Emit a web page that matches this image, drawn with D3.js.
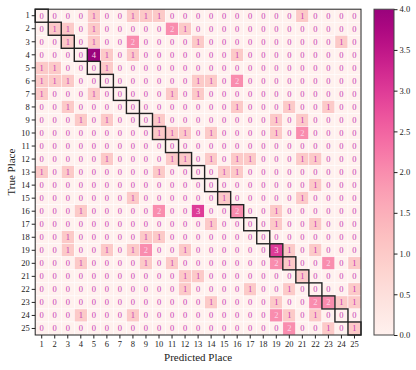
<!DOCTYPE html>
<html>
<head>
<meta charset="utf-8">
<script src="https://d3js.org/d3.v7.min.js"></script>
<style>
  body { margin: 0; background: #fff; }
  text { font-family: "Liberation Serif", "DejaVu Serif", serif; }
</style>
</head>
<body>
<div id="chart"></div>
<script>
// place labels (both axes)
var places = ["1","2","3","4","5","6","7","8","9","10","11","12","13",
              "14","15","16","17","18","19","20","21","22","23","24","25"];

// confusion counts: one row per true place, one column per predicted place
var counts = [
  [0,0,0,0,1,0,0,1,1,1,0,0,0,0,0,0,0,0,0,0,1,0,0,0,0],
  [0,1,1,0,1,0,0,0,0,0,2,1,0,0,0,0,0,0,0,0,0,0,0,0,0],
  [0,0,1,0,1,0,0,2,0,0,0,0,1,0,0,0,0,0,0,0,0,0,0,1,0],
  [0,0,0,0,4,1,0,1,0,0,0,0,0,0,0,1,0,0,0,0,0,0,0,0,0],
  [1,1,0,0,0,1,0,0,0,0,0,0,0,0,0,0,0,0,0,0,0,0,0,0,0],
  [1,1,1,0,0,0,0,0,0,0,0,0,1,1,0,2,0,0,0,0,0,0,0,0,0],
  [1,0,0,0,1,0,0,0,0,0,1,0,1,0,0,0,0,0,0,0,0,0,0,0,0],
  [0,0,1,0,0,0,0,0,0,0,0,0,0,0,0,1,0,0,0,1,0,0,1,0,0],
  [0,0,0,1,0,1,0,0,0,1,0,0,0,0,0,0,0,0,1,0,1,0,0,0,0],
  [0,0,0,0,0,0,0,0,0,1,1,1,0,1,0,0,0,0,1,0,2,0,0,0,0],
  [0,0,0,0,0,0,0,0,0,0,0,0,0,0,0,0,0,0,0,0,0,0,0,0,0],
  [0,0,0,0,0,1,0,0,0,0,1,1,0,1,0,1,1,0,0,0,1,1,0,0,0],
  [1,0,1,0,0,0,0,0,0,1,0,0,0,0,1,1,0,0,0,0,0,0,0,0,0],
  [0,0,0,0,0,0,0,0,0,0,0,0,0,0,0,0,0,0,0,0,0,1,0,0,0],
  [0,0,0,0,0,0,0,1,0,0,0,0,0,0,1,0,0,0,0,0,1,0,0,0,0],
  [0,0,0,1,0,0,0,0,0,2,0,0,3,0,0,2,0,0,1,0,0,0,0,0,0],
  [0,0,0,0,0,0,0,0,0,0,0,0,0,1,0,0,0,0,1,0,0,1,0,0,0],
  [0,0,1,0,0,0,0,0,1,1,0,0,0,0,0,0,0,0,0,0,0,0,0,0,0],
  [0,0,1,0,0,1,0,1,2,0,0,1,0,0,0,0,0,0,3,1,0,1,0,0,0],
  [0,0,0,1,0,0,0,0,1,0,1,0,0,0,0,0,0,0,2,1,0,0,2,0,1],
  [0,0,0,0,0,0,0,0,0,0,0,1,1,0,0,0,0,0,0,0,1,0,0,0,0],
  [0,0,0,0,0,0,0,0,0,0,0,1,0,0,0,0,1,0,0,1,0,0,0,0,1],
  [0,0,0,0,0,0,0,0,0,0,0,0,0,1,0,0,0,0,1,0,0,2,2,1,1],
  [0,0,0,1,0,0,0,1,0,0,0,0,0,0,0,0,0,0,2,1,0,1,0,0,0],
  [0,0,0,0,0,0,0,0,0,0,0,0,0,0,0,0,0,0,0,2,0,0,1,0,1]
];

// colourbar ticks
var barTicks = [0, 0.5, 1, 1.5, 2, 2.5, 3, 3.5, 4];

var width = 416, height = 370;
var plot = {left: 35.2, top: 9.2, size: 325.8};

var svg = d3.select("#chart").append("svg")
    .attr("width", width)
    .attr("height", height);

var x = d3.scaleBand().domain(places).range([plot.left, plot.left + plot.size]);
var y = d3.scaleBand().domain(places).range([plot.top, plot.top + plot.size]);

// RdPu, cut a bit before its darkest end
var color = d3.scaleSequential(function(t) { return d3.interpolateRdPu(0.03 + t * 0.77); })
    .domain([0, 4]);

// flatten the matrix into cells
var cells = [];
counts.forEach(function(row, i) {
  row.forEach(function(v, j) {
    cells.push({t: places[i], p: places[j], v: v});
  });
});

var g = svg.append("g");

g.selectAll("rect.cell")
  .data(cells)
  .join("rect")
    .attr("class", "cell")
    .attr("x", function(d) { return x(d.p); })
    .attr("y", function(d) { return y(d.t); })
    .attr("width", x.bandwidth())
    .attr("height", y.bandwidth())
    .attr("fill", function(d) { return color(d.v); })
    .attr("stroke", "#fff")
    .attr("stroke-width", 0.5);

g.selectAll("text.val")
  .data(cells)
  .join("text")
    .attr("class", "val")
    .attr("x", function(d) { return x(d.p) + x.bandwidth() / 2; })
    .attr("y", function(d) { return y(d.t) + y.bandwidth() / 2; })
    .attr("text-anchor", "middle")
    .attr("dominant-baseline", "central")
    .attr("font-size", "8.5px")
    .attr("fill", function(d) { return d.v >= 2 ? "#fbd2e6" : "#c93ab6"; })
    .text(function(d) { return d.v; });

// black boxes on the diagonal
g.selectAll("rect.diag")
  .data(places)
  .join("rect")
    .attr("class", "diag")
    .attr("x", function(d) { return x(d); })
    .attr("y", function(d) { return y(d); })
    .attr("width", x.bandwidth())
    .attr("height", y.bandwidth())
    .attr("fill", "none")
    .attr("stroke", "#222")
    .attr("stroke-width", 1.4);

// frame
g.append("rect")
  .attr("x", plot.left).attr("y", plot.top)
  .attr("width", plot.size).attr("height", plot.size)
  .attr("fill", "none").attr("stroke", "#222").attr("stroke-width", 1);

// axes
var xAxis = svg.append("g")
  .attr("transform", "translate(0," + (plot.top + plot.size) + ")")
  .call(d3.axisBottom(x).tickSize(3.5).tickPadding(2.5));
var yAxis = svg.append("g")
  .attr("transform", "translate(" + plot.left + ",0)")
  .call(d3.axisLeft(y).tickSize(3.5).tickPadding(2));
[xAxis, yAxis].forEach(function(a) {
  a.select(".domain").remove();
  a.selectAll("line").attr("stroke", "#222");
  a.selectAll("text")
    .attr("font-family", "'Liberation Serif', serif")
    .attr("font-size", "8.5px")
    .attr("fill", "#222");
});

svg.append("text")
  .attr("x", plot.left + plot.size / 2)
  .attr("y", 361)
  .attr("text-anchor", "middle")
  .attr("font-size", "11px")
  .attr("fill", "#222")
  .text("Predicted Place");

svg.append("text")
  .attr("transform", "translate(15," + (plot.top + plot.size / 2) + ") rotate(-90)")
  .attr("text-anchor", "middle")
  .attr("font-size", "11px")
  .attr("fill", "#222")
  .text("True Place");

// colourbar
var bar = {x: 374, w: 20};
var cb = d3.scaleLinear().domain([0, 4]).range([plot.top + plot.size, plot.top]);

var grad = svg.append("defs").append("linearGradient")
  .attr("id", "cbar")
  .attr("x1", "0").attr("y1", "1").attr("x2", "0").attr("y2", "0");
grad.selectAll("stop")
  .data(d3.range(0, 1.0001, 0.05))
  .join("stop")
    .attr("offset", function(d) { return d; })
    .attr("stop-color", function(d) { return color(d * 4); });

svg.append("rect")
  .attr("x", bar.x).attr("y", plot.top)
  .attr("width", bar.w).attr("height", plot.size)
  .attr("fill", "url(#cbar)")
  .attr("stroke", "#444").attr("stroke-width", 1);

var cAxis = svg.append("g")
  .attr("transform", "translate(" + (bar.x + bar.w) + ",0)")
  .call(d3.axisRight(cb).tickValues(barTicks).tickFormat(d3.format(".1f")).tickSize(3.5).tickPadding(2));
cAxis.select(".domain").remove();
cAxis.selectAll("line").attr("stroke", "#222");
cAxis.selectAll("text")
  .attr("font-family", "'Liberation Serif', serif")
  .attr("font-size", "8.5px")
  .attr("fill", "#222");
</script>
</body>
</html>
